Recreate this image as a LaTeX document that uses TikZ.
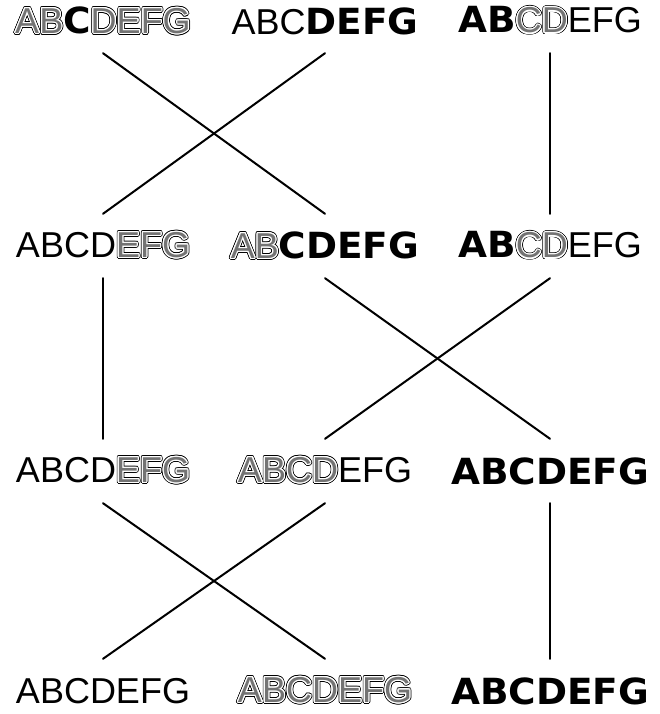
\documentclass[tikz,border=0pt]{standalone}
\usepackage{fontspec}
\setmainfont{Liberation Sans}
\newfontfamily\decofont{DejaVu Sans}[FakeStretch=1.04]
\usepackage{contour}
\contournumber{16}
\usetikzlibrary{positioning}

\newcommand{\plainlt}[1]{#1}
\newcommand{\hollowlt}[1]{%
  \rlap{\contourlength{2pt}\contour{black}{\textcolor{black}{#1}}}%
  \rlap{\contourlength{1.1pt}\contour{white}{\textcolor{white}{#1}}}%
  \textcolor{black!55}{#1}}
\newcommand{\solidlt}[1]{{\decofont\bfseries #1}}

\begin{document}
\begin{tikzpicture}[
        x=1pt, y=-1pt,
        word/.style={font=\fontsize{36}{40}\selectfont, inner sep=0pt, minimum height=64pt},
        link/.style={line width=2pt, line cap=round}
    ]
        \useasboundingbox (0,0) rectangle (659,714);

        % --- Zeile 1 ---
        \node[word] (a1) at (103,21) {\hollowlt{AB}\solidlt{C}\hollowlt{DEFG}};
        \node[word] (b1) at (325,21) {\plainlt{ABC}\solidlt{DEFG}};
        \node[word] (c1) at (550,21) {\solidlt{AB}\hollowlt{CD}\plainlt{EFG}};

        % --- Zeile 2 ---
        \node[word] (a2) at (103,246) {\plainlt{ABCD}\hollowlt{EFG}};
        \node[word] (b2) at (325,246) {\hollowlt{AB}\solidlt{CDEFG}};
        \node[word] (c2) at (550,246) {\solidlt{AB}\hollowlt{CD}\plainlt{EFG}};
        \draw[link] (a1.south) -- (b2.north);
        \draw[link] (b1.south) -- (a2.north);
        \draw[link] (c1.south) -- (c2.north);

        % --- Zeile 3 ---
        \node[word] (a3) at (103,471) {\plainlt{ABCD}\hollowlt{EFG}};
        \node[word] (b3) at (325,471) {\hollowlt{ABCD}\plainlt{EFG}};
        \node[word] (c3) at (550,471) {\solidlt{ABCDEFG}};
        \draw[link] (a2.south) -- (a3.north);
        \draw[link] (b2.south) -- (c3.north);
        \draw[link] (c2.south) -- (b3.north);

        % --- Zeile 4 ---
        \node[word] (a4) at (103,691) {\plainlt{ABCDEFG}};
        \node[word] (b4) at (325,691) {\hollowlt{ABCDEFG}};
        \node[word] (c4) at (550,691) {\solidlt{ABCDEFG}};
        \draw[link] (a3.south) -- (b4.north);
        \draw[link] (b3.south) -- (a4.north);
        \draw[link] (c3.south) -- (c4.north);
    \end{tikzpicture}
\end{document}
